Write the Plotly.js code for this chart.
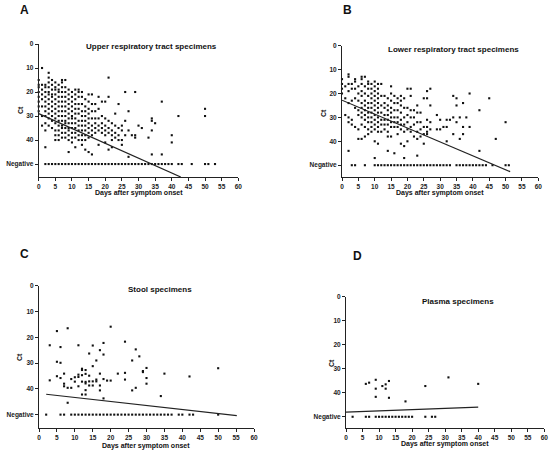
<!DOCTYPE html>
<html>
<head>
<meta charset="utf-8">
<script src="https://cdn.plot.ly/plotly-3.0.1.min.js"></script>
<style>html,body{margin:0;padding:0;background:#fff;}#chart{width:550px;height:455px;}</style>
</head>
<body>
<div id="chart"></div>
<script>
// ---------- DATA ----------
const NEG = 50; // position of "Negative" on the Ct axis
const yTickVals = [0, 10, 20, 30, 40, 50];
const yTickText = ['0', '10', '20', '30', '40', 'Negative'];

// A: Upper respiratory tract specimens
const upperDays = [0,1,2,3,4,5,6,7,8,9,10,11,12,13,14,15,16,17,18,19,20,21,22,23,24,25,26,27,28,29,30,31,33,34,35,37,40,42,50];
const upperCt = [
  [15,17,18,20,22,24,26,28],
  [10,17,19,21,23,26,30,34],
  [17,18,20,22,24,26,28,30,33,36,43],
  [12,14,16,18,20,21,23,25,27,29,31,34],
  [15,17,19,21,22,24,26,28,30,32,35],
  [16,18,19,21,23,25,27,29,31,33,36,38,40],
  [17,19,20,22,24,26,28,30,32,34,36,38,40],
  [15,16,18,20,22,24,26,28,30,32,34,35,37,39],
  [15,18,20,22,24,26,28,30,32,33,35,37,39],
  [19,21,23,25,27,29,31,33,35,36,38,40,45],
  [20,22,24,26,28,30,31,33,35,37,39,41],
  [19,21,23,25,27,29,31,33,35,37,39,43],
  [19,20,22,25,27,29,32,34,36,38,40],
  [20,22,25,28,30,32,34,36,38,40,42],
  [23,26,28,30,32,34,36,38,40,44],
  [21,24,27,29,31,33,35,37,39,45],
  [21,25,28,31,34,36,38,46],
  [25,28,31,33,35,37],
  [22,27,31,34,36,42],
  [24,30,33,35,37],
  [24,31,34,36,38,41],
  [14,22,32,35,37,44],
  [33,36,38,40,43],
  [29,34,37,39],
  [25,35,38,40],
  [34,36,40,42],
  [20,32,38],
  [28,36,47],
  [38],
  [20,38,39],
  [34],
  [35],
  [39],
  [31,32,36,46],
  [33],
  [24,46],
  [38,41],
  [30],
  [27,30]
];
const upperNegDays = [2,3,4,5,6,7,8,9,10,11,12,13,14,15,16,17,18,19,20,21,22,23,24,25,26,27,28,29,30,31,32,33,34,35,36,37,38,39,40,42,43,46,50,51,53];
const upperFitX = [0, 42.7];
const upperFitY = [29, 55.4];

// B: Lower respiratory tract specimens
const lowerDays = [0,1,2,3,4,5,6,7,8,9,10,11,12,13,14,15,16,17,18,19,20,21,22,23,24,25,26,27,29,30,31,32,33,34,35,36,37,38,39,42,45,47,50];
const lowerCt = [
  [14,16,18,20],
  [17,22,29],
  [12,13,16,19,24,30,32,44],
  [16,18,23,31,33],
  [14,15,18,22,26,34],
  [17,20,23,27,29,35,39],
  [13,14,16,19,21,24,26,28,30,33,39],
  [13,17,20,23,25,27,29,31,34,38],
  [15,16,18,21,24,26,28,30,32,35,37],
  [16,18,20,22,24,26,28,30,32,34,36],
  [15,17,19,21,23,25,27,29,31,33,35,40,47],
  [16,18,20,22,24,26,28,30,32,34,36,41],
  [16,21,25,28,31,33,36],
  [21,24,26,29,31,33,35],
  [22,25,27,29,31,33,36,38,44],
  [17,20,23,26,28,30,32,34,38],
  [21,24,27,30,32,34,45],
  [22,24,27,30,32,34,37],
  [21,23,25,28,31,33,35,41],
  [22,26,30,33,36,42,47],
  [18,26,29,32,35,40],
  [18,21,27,30,34,36],
  [27,30,33,38],
  [25,28,32,36,39,46],
  [28,32,35,38],
  [22,34,37,41],
  [19,22,31,34,36,37],
  [18,25,32,35],
  [29,35],
  [31,35],
  [34],
  [31,34,40],
  [31],
  [21,30,37],
  [22,25,32],
  [30,39],
  [24,34,37],
  [30],
  [20,34],
  [27,44],
  [22],
  [39],
  [32]
];
const lowerNegDays = [3,4,7,10,11,12,13,14,15,16,17,18,19,20,21,22,23,24,25,26,27,28,29,30,31,32,33,35,36,37,38,39,40,41,42,43,44,46,50,51];
const lowerFitX = [0, 51.4];
const lowerFitY = [22.8, 52.7];

// C: Stool specimens
const stoolDays = [3,5,6,7,8,9,10,11,12,13,14,15,16,17,18,19,20,22,24,26,27,28,29,30,34,35,42,50];
const stoolCt = [
  [23.1,36.7],
  [17.6,29.5,35.1],
  [23.8,29.9,35.8],
  [34.1,38,39],
  [16.5,39.6,45.4],
  [36.2,39.6],
  [35.5,37.2],
  [23.1,34.5,35.4,39],
  [32.2,32.7,34.7,37.2,42.2],
  [32.7,34.2,37.3,37.9,40.5,42.2],
  [26.3,34.9,37.1,38.7],
  [23.2,31.2,37.1,38.7],
  [29,36.4,37.1],
  [25,34.1,38.7,40.6],
  [22.2,26.7,36.2,43.7],
  [36.8],
  [15.9,36.8],
  [34.1],
  [21.7,33.8,36.4],
  [29,40.6],
  [24.7,39.6],
  [27.4],
  [33.1,33.5],
  [31.9,35.8,38],
  [42.8],
  [34.1],
  [35.2],
  [32]
];
const stoolNegDays = [2,6,7,9,10,11,12,13,14,15,16,17,18,19,20,21,22,23,24,25,26,27,28,29,30,31,32,33,34,35,36,37,39,40,42,43,50];
const stoolFitX = [2, 55.2];
const stoolFitY = [42.1, 50.4];

// D: Plasma specimens
const plasmaDays = [6,7,9,11,12,13,18,24,31,40];
const plasmaCt = [
  [36.3],
  [35.8],
  [34.6,38.3,41.7],
  [37.2],
  [36.5,38.3],
  [35.1,42.1],
  [43.6],
  [37.2],
  [33.6],
  [36.3]
];
const plasmaNegDays = [2,6,7,9,10,11,12,13,14,15,16,17,18,19,20,24,26,27];
const plasmaFitX = [0, 40];
const plasmaFitY = [48.1, 46.0];

// ---------- BUILD ----------
function flatten(days, cts) {
  const x = [], y = [];
  days.forEach((d, i) => cts[i].forEach(v => { x.push(d); y.push(v); }));
  return {x, y};
}
const W = 550, H = 455;
const px = v => v / W;
const py = v => 1 - v / H;

const mk = {symbol: 'square', size: 2.1, color: '#111'};
function panel(days, cts, negDays, fitX, fitY, n) {
  const xa = n === 1 ? 'x' : 'x' + n, ya = n === 1 ? 'y' : 'y' + n;
  const p = flatten(days, cts);
  return [
    {type: 'scatter', mode: 'markers', x: p.x, y: p.y, xaxis: xa, yaxis: ya, marker: mk, cliponaxis: false},
    {type: 'scatter', mode: 'markers', x: negDays, y: negDays.map(() => NEG), xaxis: xa, yaxis: ya, marker: mk, cliponaxis: false},
    {type: 'scatter', mode: 'lines', x: fitX, y: fitY, xaxis: xa, yaxis: ya, line: {color: '#222', width: 1.2}, cliponaxis: false}
  ];
}
const data = [].concat(
  panel(upperDays, upperCt, upperNegDays, upperFitX, upperFitY, 1),
  panel(lowerDays, lowerCt, lowerNegDays, lowerFitX, lowerFitY, 2),
  panel(stoolDays, stoolCt, stoolNegDays, stoolFitX, stoolFitY, 3),
  panel(plasmaDays, plasmaCt, plasmaNegDays, plasmaFitX, plasmaFitY, 4)
);

const tf = {family: 'Liberation Sans, Arial, sans-serif', size: 6.5, color: '#222', weight: 'bold'};
function xAxis(l, r, anchor) {
  return {domain: [px(l), px(r)], anchor: anchor, range: [0, 60], tick0: 0, dtick: 5,
    showline: true, linecolor: '#222', linewidth: 1, ticks: 'outside', ticklen: 3, tickwidth: 1, tickcolor: '#222',
    showgrid: false, zeroline: false, tickfont: tf, fixedrange: true};
}
function yAxis(t, b, max, anchor) {
  return {domain: [py(b), py(t)], anchor: anchor, range: [max, 0], tickmode: 'array', tickvals: yTickVals, ticktext: yTickText,
    showline: true, linecolor: '#222', linewidth: 1, ticks: 'outside', ticklen: 3, tickwidth: 1, tickcolor: '#222',
    showgrid: false, zeroline: false, tickfont: tf, fixedrange: true};
}
const f = (s) => ({family: 'Liberation Sans, Arial, sans-serif', size: s, color: '#111', weight: 'bold'});
function ann(text, x, y, size, angle) {
  return {text: text, xref: 'paper', yref: 'paper', x: px(x), y: py(y), xanchor: 'center', yanchor: 'middle',
    showarrow: false, font: f(size), textangle: angle || 0};
}
const layout = {
  width: W, height: H, margin: {l: 0, r: 0, t: 0, b: 0}, paper_bgcolor: '#fff', plot_bgcolor: '#fff', showlegend: false,
  xaxis: xAxis(38.7, 238.3, 'y'), yaxis: yAxis(44, 177, 55.4, 'x'),
  xaxis2: xAxis(342, 538.3, 'y2'), yaxis2: yAxis(45.7, 177.3, 55.06, 'x2'),
  xaxis3: xAxis(39, 254, 'y3'), yaxis3: yAxis(285.7, 428.3, 55.3, 'x3'),
  xaxis4: xAxis(346, 544.3, 'y4'), yaxis4: yAxis(296.7, 428.3, 54.8, 'x4'),
  annotations: [
    ann('A', 24, 10, 12), ann('B', 347, 10, 12), ann('C', 24, 254, 12), ann('D', 357, 256, 12),
    ann('Upper respiratory tract specimens', 151, 47, 8),
    ann('Lower respiratory tract specimens', 453, 49, 8),
    ann('Stool specimens', 160, 289, 8),
    ann('Plasma specimens', 458, 301, 8),
    ann('Ct', 20, 110, 7, -90), ann('Ct', 323, 113, 7, -90), ann('Ct', 19, 357, 7, -90), ann('Ct', 331, 363, 7, -90),
    ann('Days after symptom onset', 139, 193, 7), ann('Days after symptom onset', 440, 193, 7),
    ann('Days after symptom onset', 146, 446, 7), ann('Days after symptom onset', 445, 444, 7)
  ]
};
Plotly.newPlot('chart', data, layout, {displayModeBar: false, staticPlot: true});
</script>
</body>
</html>
